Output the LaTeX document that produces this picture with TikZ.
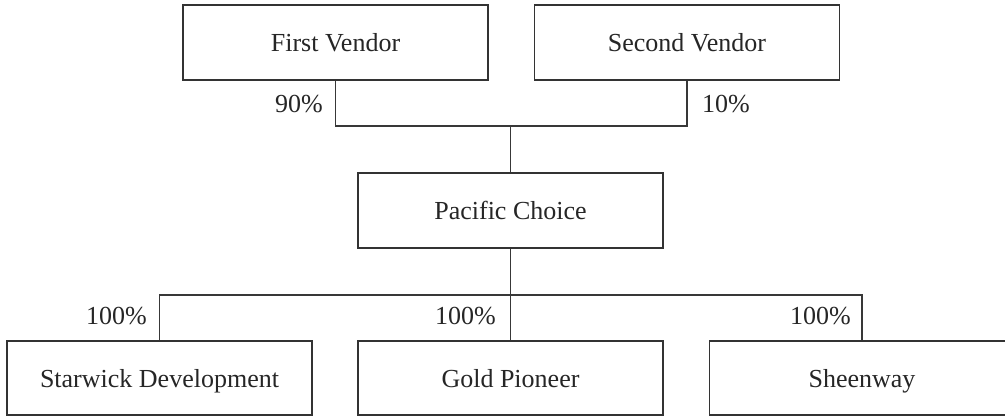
\documentclass[tikz,border=0pt]{standalone}
\usepackage{fontspec}
\setmainfont{Liberation Serif}
\begin{document}
\begin{tikzpicture}[x=1pt,y=-1pt,
  ent/.style={draw=black!80, line width=1.5pt, rectangle, minimum width=305pt, minimum height=75pt, inner sep=0pt, text height=20.5pt, text depth=2pt, font=\fontsize{26}{30}\selectfont, text=black!85},
  pct/.style={font=\fontsize{26}{30}\selectfont, text=black!85, inner sep=0pt},
  link/.style={draw=black!78, line width=1.5pt}]
\useasboundingbox (0,0) rectangle (1005,416);
\clip (0,0) rectangle (1005,416);
\fill[white] (0,0) rectangle (1005,416);
\node[ent] (fv) at (335.5,42.5) {First Vendor};
\node[ent] (sv) at (687,42.5) {Second Vendor};
\node[ent] (pc) at (510.5,210.5) {Pacific Choice};
\node[ent, minimum height=74pt] (sd) at (159.5,378) {Starwick Development};
\node[ent, minimum height=74pt] (gp) at (510.5,378) {Gold Pioneer};
\node[ent, minimum height=74pt] (sw) at (862,378) {Sheenway};
\coordinate (j1) at (510.5,126);
\coordinate (j2) at (510.5,295);
\draw[link] (fv.south) |- (j1) -| (sv.south);
\draw[link] (j1) -- (pc.north);
\draw[link] (sd.north) |- (j2) -| (sw.north);
\draw[link] (pc.south) -- (gp.north);
\node[pct, anchor=base east] (l1) at (323,112) {90\%};
\node[pct, anchor=base west] (l2) at (702,112) {10\%};
\node[pct, anchor=base east] (l3) at (147,324) {100\%};
\node[pct, anchor=base east] (l4) at (496,324) {100\%};
\node[pct, anchor=base east] (l5) at (851,324) {100\%};
\end{tikzpicture}
\end{document}
